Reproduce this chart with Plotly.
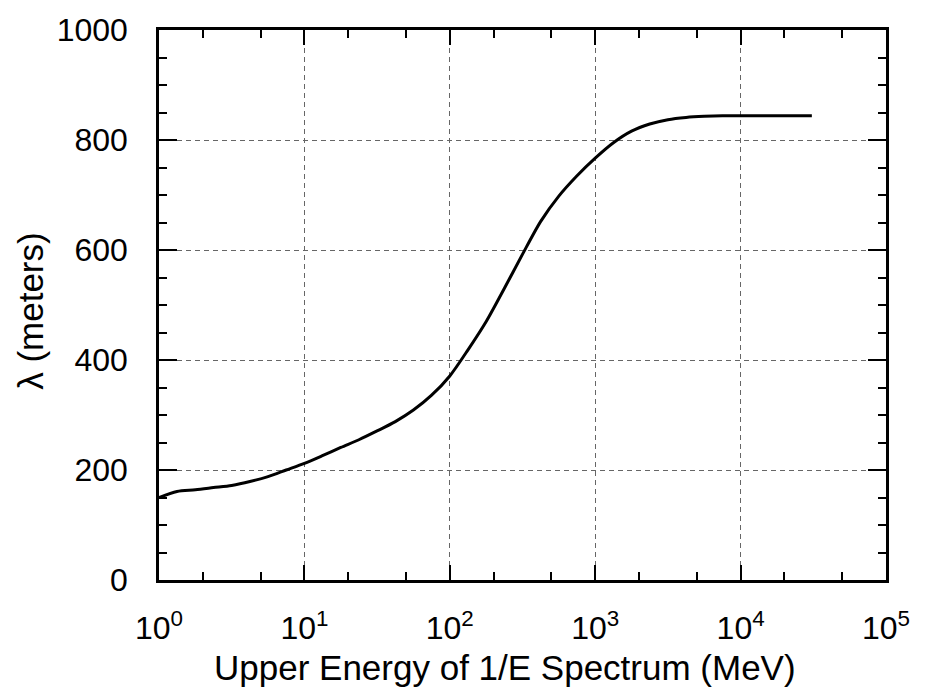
import plotly.graph_objects as go

energy_mev = [1, 1.33, 1.78, 2.37, 3.16, 4.22, 5.62, 7.50, 10, 13.3, 17.8, 23.7,
              31.6, 42.2, 56.2, 75.0, 100, 133, 178, 237, 316, 422, 562, 750,
              1000, 1334, 1778, 2371, 3162, 4217, 5623, 7499, 10000, 17783, 30900]
lambda_m = [150, 161, 164, 168, 172, 179, 188, 200, 212, 226, 241, 255,
            271, 288, 309, 336, 371, 418, 470, 530, 592, 652, 698, 735,
            767, 795, 816, 829, 837, 841, 843, 844, 844, 844, 844]

x_tickvals = [1, 10, 100, 1000, 10000, 100000]
x_ticktext = ["10<sup>0</sup>", "10<sup>1</sup>", "10<sup>2</sup>",
              "10<sup>3</sup>", "10<sup>4</sup>", "10<sup>5</sup>"]
y_tickvals = [0, 200, 400, 600, 800, 1000]

x_title = "Upper Energy of 1/E Spectrum (MeV)"
y_title = "λ (meters)"

font = "Liberation Sans, Arial, sans-serif"
fs = 32
fs_title = 35

fig = go.Figure()
fig.add_trace(go.Scatter(x=energy_mev, y=lambda_m, mode="lines",
                         line=dict(color="black", width=3, shape="spline", smoothing=0.8),
                         showlegend=False))

fig.update_layout(
    width=925, height=699,
    margin=dict(l=159, r=39, t=27, b=119),
    paper_bgcolor="white", plot_bgcolor="white",
    font=dict(family=font, size=fs, color="black"),
)
fig.update_xaxes(
    type="log", range=[0, 5],
    tickvals=x_tickvals, ticktext=x_ticktext,
    ticks="inside", ticklen=15, tickwidth=2, tickcolor="black",
    showline=True, linewidth=2.5, linecolor="black", mirror="allticks",
    showgrid=True, gridcolor="#666666", griddash="5px,4px", gridwidth=1,
    minor=dict(ticks="inside", ticklen=8, tickwidth=2, tickcolor="black", showgrid=False),
    tickfont=dict(size=fs, family=font),
    ticklabelstandoff=18,
    zeroline=False,
)
fig.update_yaxes(
    range=[0, 1000], tickvals=y_tickvals,
    ticks="inside", ticklen=18, tickwidth=2, tickcolor="black",
    showline=True, linewidth=2.5, linecolor="black", mirror="allticks",
    showgrid=True, gridcolor="#666666", griddash="5px,4px", gridwidth=1,
    minor=dict(ticks="inside", ticklen=8, tickwidth=2, tickcolor="black", dtick=50, showgrid=False),
    tickfont=dict(size=fs, family=font),
    ticklabelstandoff=22,
    zeroline=False,
)
fig.add_annotation(text=x_title, xref="paper", yref="paper", x=0.476, y=-0.159,
                   xanchor="center", yanchor="middle", showarrow=False,
                   font=dict(size=fs_title, family=font, color="black"))
fig.add_annotation(text=y_title, xref="paper", yref="paper", x=-0.177, y=0.49,
                   xanchor="center", yanchor="middle", showarrow=False, textangle=-90,
                   font=dict(size=fs_title, family=font, color="black"))

fig.write_html("out.html")
